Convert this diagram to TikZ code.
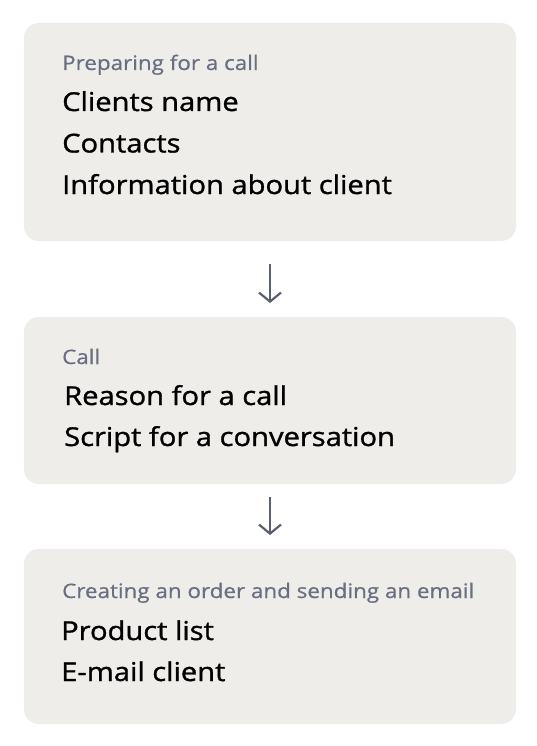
\documentclass[tikz,border=0pt]{standalone}
\usepackage{fontspec}
\setmainfont{Open Sans}
\newfontfamily\bodyfont[FakeStretch=1.12, FakeBold=1.2]{Open Sans}
\newfontfamily\labelfont[FakeStretch=1.12, FakeBold=0.6]{Open Sans}
\usetikzlibrary{arrows.meta}
\definecolor{boxfill}{HTML}{EEEDEA}
\definecolor{labelgray}{HTML}{696E80}
\definecolor{arrowgray}{HTML}{5B6070}
\tikzset{
  card/.style={fill=boxfill, draw=none, rounded corners=15pt},
  lbl/.style={anchor=base west, inner sep=0pt, text=labelgray, font=\labelfont\fontsize{20}{24}\selectfont},
  body/.style={anchor=base west, inner sep=0pt, text=black, font=\bodyfont\fontsize{26}{32}\selectfont},
  flow/.style={draw=arrowgray, line width=2.2pt, -{Straight Barb[length=9pt, width=22pt, line width=2.2pt]}}
}
\begin{document}
\begin{tikzpicture}[x=1pt, y=-1pt]
\useasboundingbox (0,0) rectangle (536,746);
\fill[white] (0,0) rectangle (536,746);
% boxes
\path[card] (24,23) rectangle (516,241);
\path[card] (24,317) rectangle (516,484);
\path[card] (24,549) rectangle (516,724);
% box 1
\node[lbl] (l1) at (62,70) {Preparing for a call};
\node[body] (b11) at (62,111) {Clients name};
\node[body] (b12) at (62,152.5) {Contacts};
\node[body] (b13) at (62,194) {Information about client};
% box 2
\node[lbl] (l2) at (62,364) {Call};
\node[body] (b21) at (64,405) {Reason for a call};
\node[body] (b22) at (64,446) {Script for a conversation};
% box 3
\node[lbl] (l3) at (62,598) {Creating an order and sending an email};
\node[body] (b31) at (61,640) {Product list};
\node[body] (b32) at (61,681) {E-mail client};
% arrows
\coordinate (a1s) at (270,264);
\coordinate (a1e) at (270,303);
\coordinate (a2s) at (270,497);
\coordinate (a2e) at (270,535);
\draw[flow] (a1s) -- (a1e);
\draw[flow] (a2s) -- (a2e);
\end{tikzpicture}
\end{document}
